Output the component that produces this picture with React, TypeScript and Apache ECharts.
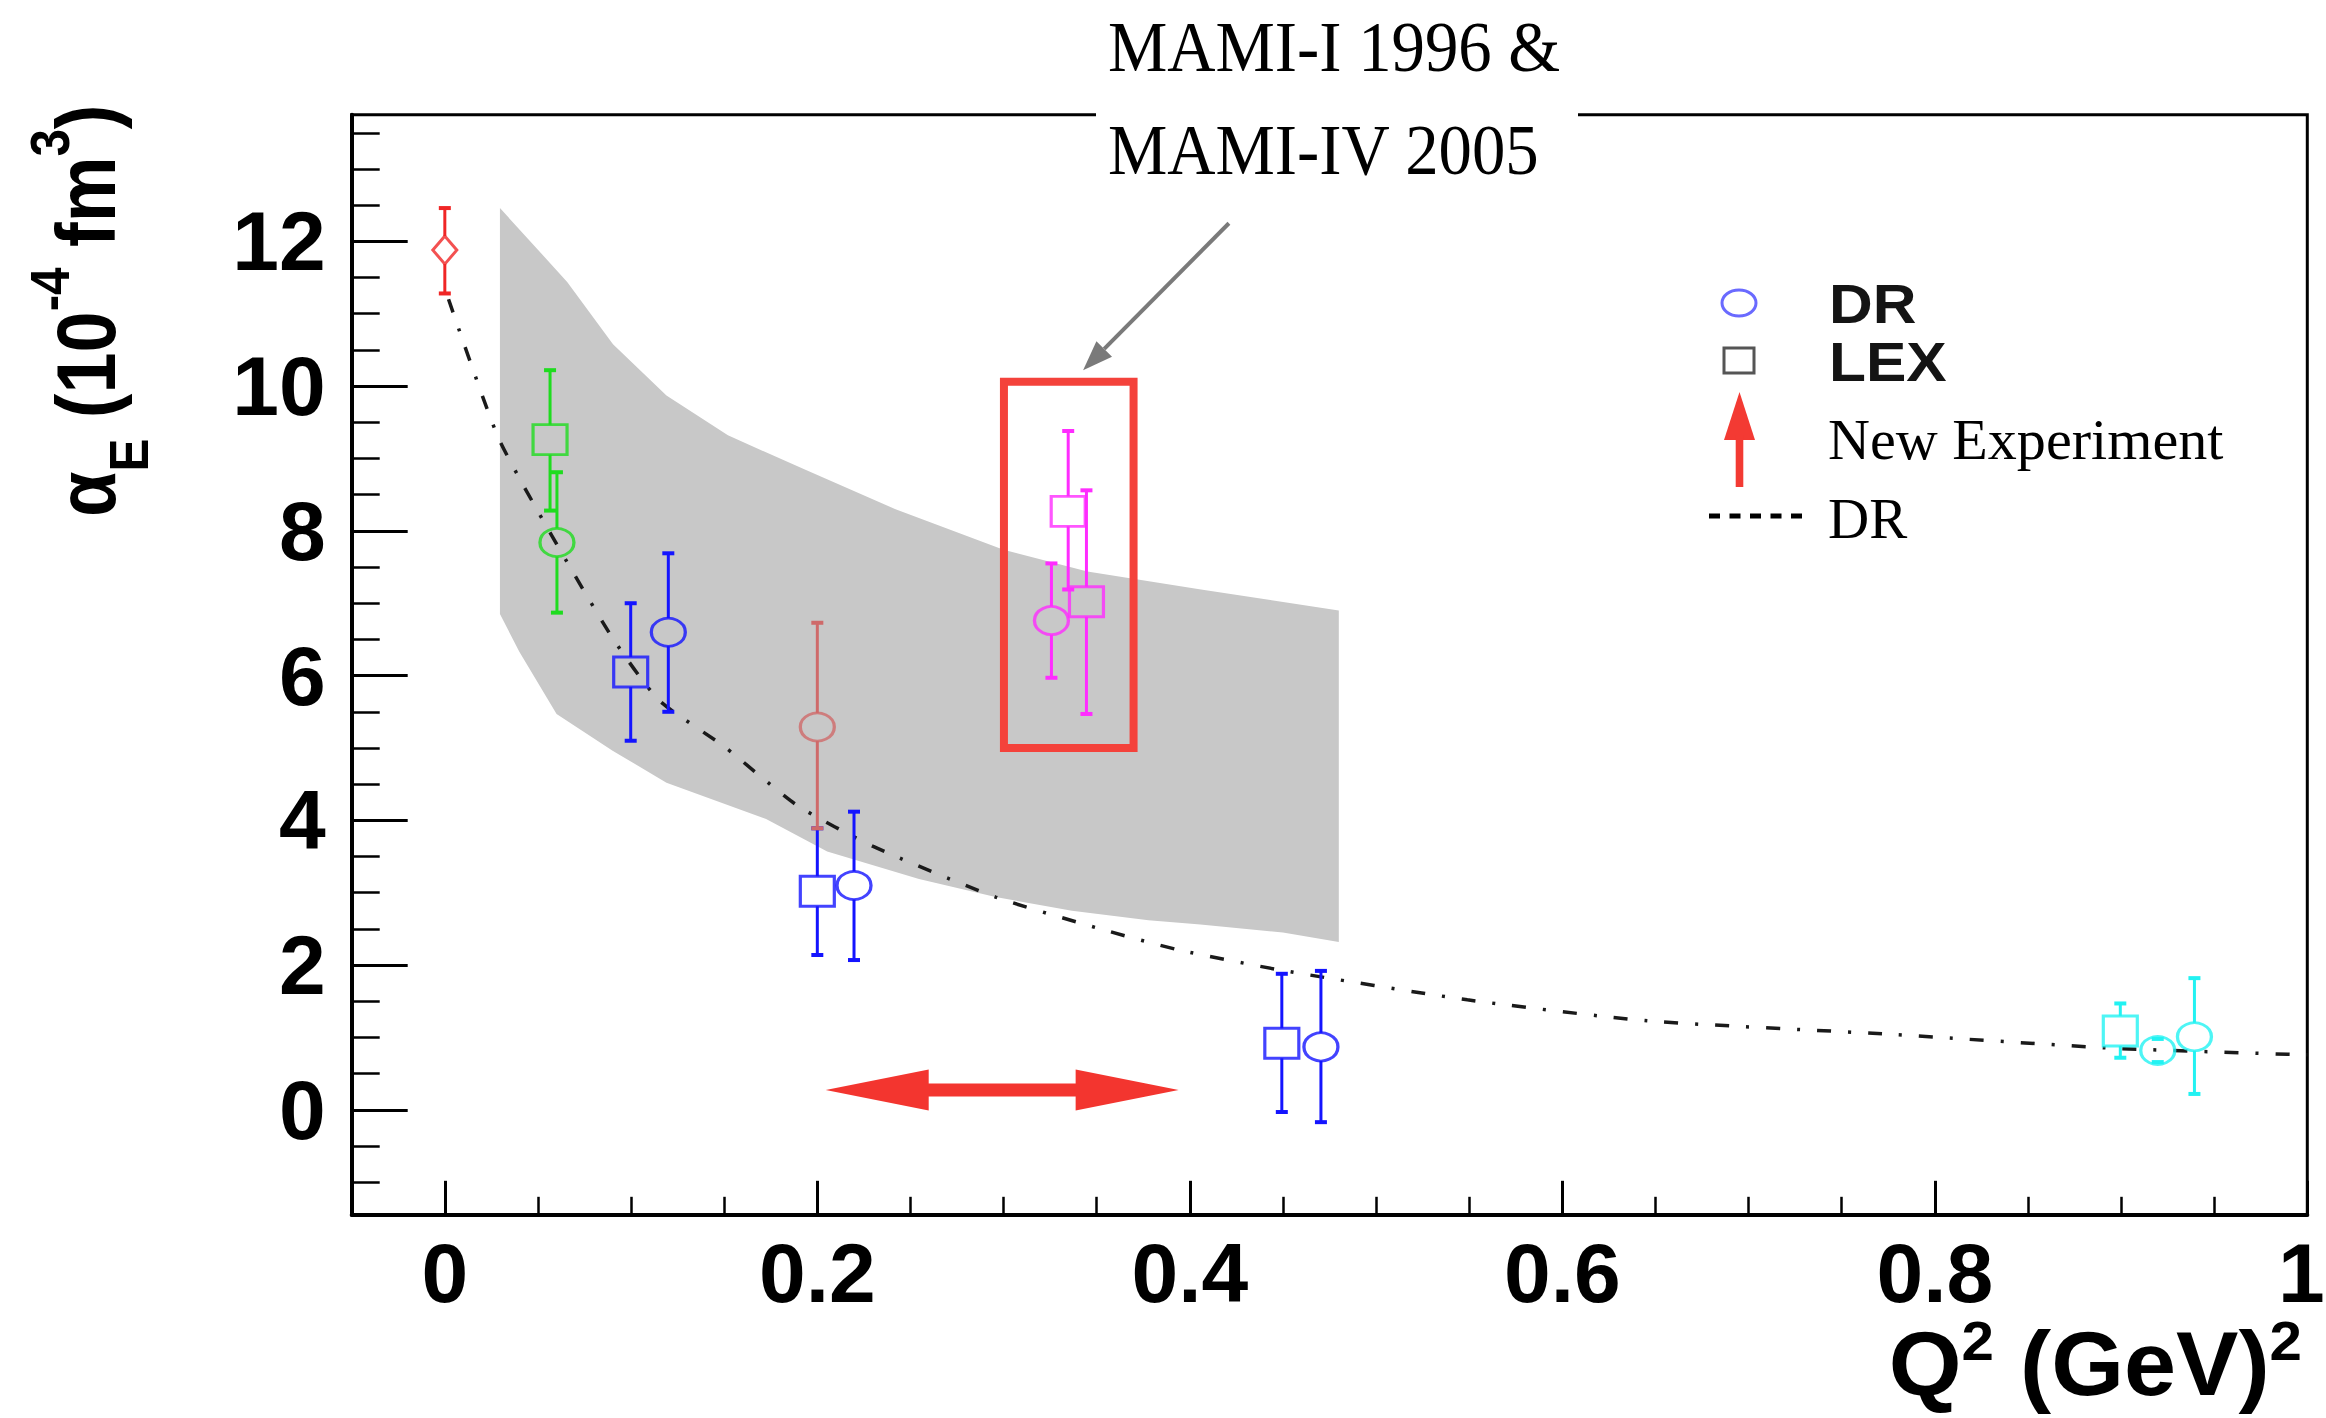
import React, { useEffect, useRef } from 'react';
import * as echarts from 'echarts';

// ---- axis ticks ----
const xMajorTicks = [0, 0.2, 0.4, 0.6, 0.8, 1];
const xMinorTicks = [0.05, 0.1, 0.15, 0.25, 0.3, 0.35, 0.45, 0.5, 0.55, 0.65, 0.7, 0.75, 0.85, 0.9, 0.95];
const yMajorTicks = [0, 2, 4, 6, 8, 10, 12];
const yMinorTicks = [-1, -0.5, 0.5, 1, 1.5, 2.5, 3, 3.5, 4.5, 5, 5.5, 6.5, 7, 7.5, 8.5, 9, 9.5, 10.5, 11, 11.5, 12.5, 13, 13.5];

// ---- data points: [Q2, alphaE, lower end of error bar, upper end of error bar] ----
const realPhoton = [[0, 11.88, 11.28, 12.46]];
const greenLEX = [[0.0565, 9.26, 8.28, 10.22]];
const greenDR = [[0.0602, 7.84, 6.87, 8.81]];
const blueLEX = [[0.0998, 6.05, 5.10, 7.00], [0.2, 3.02, 2.14, 3.89], [0.4494, 0.92, -0.03, 1.88]];
const blueDR = [[0.12, 6.60, 5.50, 7.69], [0.2197, 3.10, 2.07, 4.12], [0.4704, 0.87, -0.17, 1.92]];
const rosyDR = [[0.2, 5.29, 3.89, 6.73]];
const magentaDR = [[0.3257, 6.76, 5.97, 7.55]];
const magentaLEX = [[0.3347, 8.27, 7.19, 9.38], [0.3445, 7.02, 5.47, 8.56]];
const cyanLEX = [[0.8996, 1.09, 0.72, 1.47]];
const cyanDR = [[0.9197, 0.82, 0.66, 0.98], [0.9394, 1.01, 0.22, 1.82]];

// ---- DR theory curve ----
const drCurveQ2 = [0.002, 0.0287, 0.0575, 0.0903, 0.115, 0.15, 0.189, 0.23, 0.2957, 0.352, 0.394, 0.449, 0.549, 0.6457, 0.772, 0.897, 1.0];
const drCurveAlpha = [11.2, 9.29, 7.93, 6.51, 5.66, 5.02, 4.21, 3.64, 2.94, 2.5, 2.21, 1.93, 1.52, 1.23, 1.05, 0.85, 0.76];

// ---- grey band ----
const bandUpperQ2 = [0.0296, 0.0657, 0.0903, 0.119, 0.152, 0.193, 0.242, 0.300, 0.345, 0.406, 0.48];
const bandUpper = [12.46, 11.44, 10.58, 9.87, 9.32, 8.85, 8.30, 7.74, 7.44, 7.19, 6.90];
const bandLowerQ2 = [0.0296, 0.04, 0.06, 0.0903, 0.119, 0.1725, 0.2053, 0.2546, 0.2957, 0.3367, 0.3778, 0.4057, 0.45, 0.48];
const bandLower = [6.85, 6.33, 5.47, 4.96, 4.52, 4.02, 3.57, 3.19, 2.94, 2.75, 2.62, 2.56, 2.45, 2.32];

// ---- annotations (data coordinates) ----
const rangeArrowQ2 = [0.2045, 0.394];
const rangeArrowAlpha = 0.275;
const highlightQ2 = [0.3002, 0.3698];
const highlightAlpha = [5.0, 10.06];
const pointerFrom = [0.421, 12.25];
const pointerTo = [0.3427, 10.22];

const SANS = 'Liberation Sans, Arial, Helvetica, sans-serif';
const SERIF = 'Liberation Serif, Times New Roman, serif';

function errorBars(rows: number[][], color: string, gap: number) {
  return {
    type: 'custom',
    data: rows,
    encode: { x: 0, y: 1 },
    z: 3,
    silent: true,
    renderItem: (params: any, api: any) => {
      const x = api.value(0);
      const y = api.value(1);
      const lo = api.value(2);
      const hi = api.value(3);
      const pc = api.coord([x, y]);
      const pl = api.coord([x, lo]);
      const ph = api.coord([x, hi]);
      const cap = 6;
      const st = { stroke: color, lineWidth: 3 };
      const children: any[] = [];
      if (ph[1] < pc[1] - gap) {
        children.push({ type: 'line', shape: { x1: pc[0], y1: pc[1] - gap, x2: ph[0], y2: ph[1] }, style: st });
      }
      if (pl[1] > pc[1] + gap) {
        children.push({ type: 'line', shape: { x1: pc[0], y1: pc[1] + gap, x2: pl[0], y2: pl[1] }, style: st });
      }
      children.push({ type: 'line', shape: { x1: ph[0] - cap, y1: ph[1], x2: ph[0] + cap, y2: ph[1] }, style: { stroke: color, lineWidth: 4 } });
      children.push({ type: 'line', shape: { x1: pl[0] - cap, y1: pl[1], x2: pl[0] + cap, y2: pl[1] }, style: { stroke: color, lineWidth: 4 } });
      return { type: 'group', children };
    },
  };
}

function markers(rows: number[][], color: string, symbol: string, size: number[]) {
  return {
    type: 'scatter',
    data: rows,
    encode: { x: 0, y: 1 },
    symbol,
    symbolSize: size,
    z: 4,
    silent: true,
    itemStyle: { color: 'rgba(255,255,255,0)', borderColor: color, borderWidth: 3 },
  };
}

const C_RED = '#f02626';
const C_GREEN = '#1fdc1f';
const C_BLUE = '#1414ff';
const C_ROSY = '#cf6a6a';
const C_MAGENTA = '#ff2cff';
const C_CYAN = '#22f2f2';
const SQ = [34, 30];
const CI = [34, 28];

export default function App() {
  const ref = useRef<HTMLDivElement>(null);
  useEffect(() => {
    document.body.style.margin = '0';
    document.body.style.overflow = 'hidden';
    const chart = echarts.init(ref.current as HTMLDivElement, null, { renderer: 'svg' });
    const option: any = {
      animation: false,
      backgroundColor: '#ffffff',
      grid: {
        left: 351.7, right: 18.7, top: 114.7, bottom: 203.2,
        show: true, borderColor: '#000', borderWidth: 3, backgroundColor: 'rgba(0,0,0,0)',
        containLabel: false, outerBoundsMode: 'none',
      },
      xAxis: [
        {
          type: 'value', min: -0.05, max: 1, position: 'bottom',
          axisLine: { show: true, onZero: false, lineStyle: { color: '#000', width: 4 } },
          axisTick: { show: true, inside: true, length: 34, customValues: xMajorTicks, lineStyle: { color: '#000', width: 3 } },
          axisLabel: {
            show: true, customValues: xMajorTicks, fontSize: 84, fontWeight: 'bold', fontFamily: SANS, color: '#000', margin: 16,
            formatter: (v: number) => (Math.abs(v - 1) < 1e-9 ? '{last|1}' : String(Math.round(v * 10) / 10)),
            rich: {
              last: { fontSize: 84, fontWeight: 'bold', fontFamily: SANS, color: '#000', padding: [0, 12, 0, 0] },
            },
          },
          splitLine: { show: false },
        },
        {
          type: 'value', min: -0.05, max: 1, position: 'bottom',
          axisLine: { show: false, onZero: false },
          axisTick: { show: true, inside: true, length: 18, customValues: xMinorTicks, lineStyle: { color: '#000', width: 2.5 } },
          axisLabel: { show: false },
          splitLine: { show: false },
        },
      ],
      yAxis: [
        {
          type: 'value', min: -1.45, max: 13.75, position: 'left',
          axisLine: { show: true, onZero: false, lineStyle: { color: '#000', width: 4 } },
          axisTick: { show: true, inside: true, length: 56, customValues: yMajorTicks, lineStyle: { color: '#000', width: 3 } },
          axisLabel: { show: true, customValues: yMajorTicks, fontSize: 84, fontWeight: 'bold', fontFamily: SANS, color: '#000', margin: 26 },
          splitLine: { show: false },
        },
        {
          type: 'value', min: -1.45, max: 13.75, position: 'left',
          axisLine: { show: false, onZero: false },
          axisTick: { show: true, inside: true, length: 28, customValues: yMinorTicks, lineStyle: { color: '#000', width: 2.5 } },
          axisLabel: { show: false },
          splitLine: { show: false },
        },
      ],
      series: [
        {
          type: 'custom',
          data: [[bandUpperQ2[0], bandUpper[0]]],
          encode: { x: 0, y: 1 },
          z: 1,
          silent: true,
          renderItem: (params: any, api: any) => {
            const pts: number[][] = [];
            for (let i = 0; i < bandUpperQ2.length; i++) pts.push(api.coord([bandUpperQ2[i], bandUpper[i]]));
            for (let i = bandLowerQ2.length - 1; i >= 0; i--) pts.push(api.coord([bandLowerQ2[i], bandLower[i]]));
            return { type: 'polygon', shape: { points: pts }, style: { fill: '#c8c8c8', stroke: 'none' } };
          },
        },
        {
          type: 'line',
          data: drCurveQ2.map((q, i) => [q, drCurveAlpha[i]]),
          showSymbol: false,
          smooth: 0.2,
          z: 2,
          silent: true,
          lineStyle: { color: '#1a1a1a', width: 3.5, type: [14, 17, 3, 17] },
        },
        errorBars(realPhoton, C_RED, 14),
        errorBars(greenLEX, C_GREEN, 15),
        errorBars(greenDR, C_GREEN, 14),
        errorBars(blueLEX, C_BLUE, 15),
        errorBars(blueDR, C_BLUE, 14),
        errorBars(rosyDR, C_ROSY, 14),
        errorBars(magentaDR, C_MAGENTA, 14),
        errorBars(magentaLEX, C_MAGENTA, 15),
        errorBars(cyanLEX, C_CYAN, 15),
        errorBars(cyanDR, C_CYAN, 14),
        markers(realPhoton, C_RED, 'diamond', [24, 28]),
        markers(greenLEX, C_GREEN, 'rect', SQ),
        markers(greenDR, C_GREEN, 'circle', CI),
        markers(blueLEX, C_BLUE, 'rect', SQ),
        markers(blueDR, C_BLUE, 'circle', CI),
        markers(rosyDR, C_ROSY, 'circle', CI),
        markers(magentaDR, C_MAGENTA, 'circle', CI),
        markers(magentaLEX, C_MAGENTA, 'rect', SQ),
        markers(cyanLEX, C_CYAN, 'rect', SQ),
        markers(cyanDR, C_CYAN, 'circle', CI),
      ],
    };
    chart.setOption(option);

    const px = (x: number, y: number) => chart.convertToPixel({ xAxisIndex: 0, yAxisIndex: 0 }, [x, y]) as number[];

    // double arrow
    const aL = px(rangeArrowQ2[0], rangeArrowAlpha);
    const aR = px(rangeArrowQ2[1], rangeArrowAlpha);
    const ay = aL[1];
    const hl = 103, hw = 20.5, sw = 6.5;
    const dbl = [
      [aL[0], ay], [aL[0] + hl, ay - hw], [aL[0] + hl, ay - sw], [aR[0] - hl, ay - sw], [aR[0] - hl, ay - hw],
      [aR[0], ay], [aR[0] - hl, ay + hw], [aR[0] - hl, ay + sw], [aL[0] + hl, ay + sw], [aL[0] + hl, ay + hw],
    ];

    // highlight rectangle
    const r1 = px(highlightQ2[0], highlightAlpha[1]);
    const r2 = px(highlightQ2[1], highlightAlpha[0]);

    // grey pointer arrow
    const p0 = px(pointerFrom[0], pointerFrom[1]);
    const p1 = px(pointerTo[0], pointerTo[1]);
    const dx = p1[0] - p0[0], dy = p1[1] - p0[1];
    const len = Math.sqrt(dx * dx + dy * dy);
    const ux = dx / len, uy = dy / len;
    const headL = 30, headW = 11;
    const bx = p1[0] - ux * headL, by = p1[1] - uy * headL;
    const head = [[p1[0], p1[1]], [bx - uy * headW, by + ux * headW], [bx + uy * headW, by - ux * headW]];

    const graphic: any[] = [
      { type: 'polygon', z: 50, shape: { points: dbl }, style: { fill: '#f3352f' }, silent: true },
      {
        type: 'rect', z: 50, silent: true,
        shape: { x: r1[0], y: r1[1], width: r2[0] - r1[0], height: r2[1] - r1[1] },
        style: { fill: 'none', stroke: '#f4423b', lineWidth: 8 },
      },
      { type: 'line', z: 50, silent: true, shape: { x1: p0[0], y1: p0[1], x2: bx, y2: by }, style: { stroke: '#7a7a7a', lineWidth: 4 } },
      { type: 'polygon', z: 50, silent: true, shape: { points: head }, style: { fill: '#7a7a7a' } },
      // white box behind the title that interrupts the frame
      { type: 'rect', z: 60, silent: true, shape: { x: 1096, y: 0, width: 482, height: 195 }, style: { fill: '#ffffff' } },
      {
        type: 'text', z: 61, x: 1108, y: 47, scaleX: 0.94, silent: true,
        style: { text: 'MAMI-I 1996 &', font: `71px ${SERIF}`, fill: '#000', align: 'left', verticalAlign: 'middle' },
      },
      {
        type: 'text', z: 61, x: 1108, y: 150, scaleX: 0.94, silent: true,
        style: { text: 'MAMI-IV 2005', font: `71px ${SERIF}`, fill: '#000', align: 'left', verticalAlign: 'middle' },
      },
      // legend
      { type: 'ellipse', z: 50, silent: true, shape: { cx: 1739, cy: 303, rx: 17, ry: 13 }, style: { fill: 'none', stroke: '#6a6aff', lineWidth: 3 } },
      {
        type: 'text', z: 50, x: 1829, y: 304, scaleX: 1.1, silent: true,
        style: { text: 'DR', font: `bold 55px ${SANS}`, fill: '#141414', align: 'left', verticalAlign: 'middle' },
      },
      { type: 'rect', z: 50, silent: true, shape: { x: 1724, y: 348, width: 30, height: 25 }, style: { fill: 'none', stroke: '#555', lineWidth: 3 } },
      {
        type: 'text', z: 50, x: 1829, y: 362, scaleX: 1.1, silent: true,
        style: { text: 'LEX', font: `bold 55px ${SANS}`, fill: '#141414', align: 'left', verticalAlign: 'middle' },
      },
      { type: 'polygon', z: 50, silent: true, shape: { points: [[1739.5, 392], [1724, 440], [1755, 440]] }, style: { fill: '#f33a33' } },
      { type: 'rect', z: 50, silent: true, shape: { x: 1735.7, y: 435, width: 7.6, height: 52 }, style: { fill: '#f33a33' } },
      {
        type: 'text', z: 50, x: 1828, y: 440, scaleX: 1.02, silent: true,
        style: { text: 'New Experiment', font: `57px ${SERIF}`, fill: '#000', align: 'left', verticalAlign: 'middle' },
      },
      { type: 'line', z: 50, silent: true, shape: { x1: 1709, y1: 516, x2: 1805, y2: 516 }, style: { stroke: '#000', lineWidth: 5, lineDash: [11, 9.5] } },
      {
        type: 'text', z: 50, x: 1828, y: 518, silent: true,
        style: { text: 'DR', font: `57px ${SERIF}`, fill: '#000', align: 'left', verticalAlign: 'middle' },
      },
      // axis titles
      {
        type: 'text', z: 50, x: 86, y: 517, rotation: Math.PI / 2, scaleX: 0.88, silent: true,
        style: {
          text: '{m|α}{sub|E}{m| (10}{sup|-4}{m| fm}{sup|3}{m|)}',
          align: 'left', verticalAlign: 'middle',
          rich: {
            m: { fontSize: 84, fontWeight: 'bold', fontFamily: SANS, fill: '#000', lineHeight: 100, verticalAlign: 'middle' },
            sub: { fontSize: 56, fontWeight: 'bold', fontFamily: SANS, fill: '#000', height: 15, lineHeight: 15, verticalAlign: 'bottom' },
            sup: { fontSize: 56, fontWeight: 'bold', fontFamily: SANS, fill: '#000', height: 26, lineHeight: 26, verticalAlign: 'top' },
          },
        },
      },
      {
        type: 'text', z: 50, x: 2302, y: 1364, scaleX: 1.04, silent: true,
        style: {
          text: '{m|Q}{sup|2}{m| (GeV)}{sup|2}',
          align: 'right', verticalAlign: 'middle',
          rich: {
            m: { fontSize: 90, fontWeight: 'bold', fontFamily: SANS, fill: '#000', lineHeight: 100, verticalAlign: 'middle' },
            sup: { fontSize: 56, fontWeight: 'bold', fontFamily: SANS, fill: '#000', height: 52, lineHeight: 52, verticalAlign: 'top' },
          },
        },
      },
    ];
    chart.setOption({ graphic });
    return () => chart.dispose();
  }, []);
  return <div ref={ref} style={{ width: 2326, height: 1418 }} />;
}
